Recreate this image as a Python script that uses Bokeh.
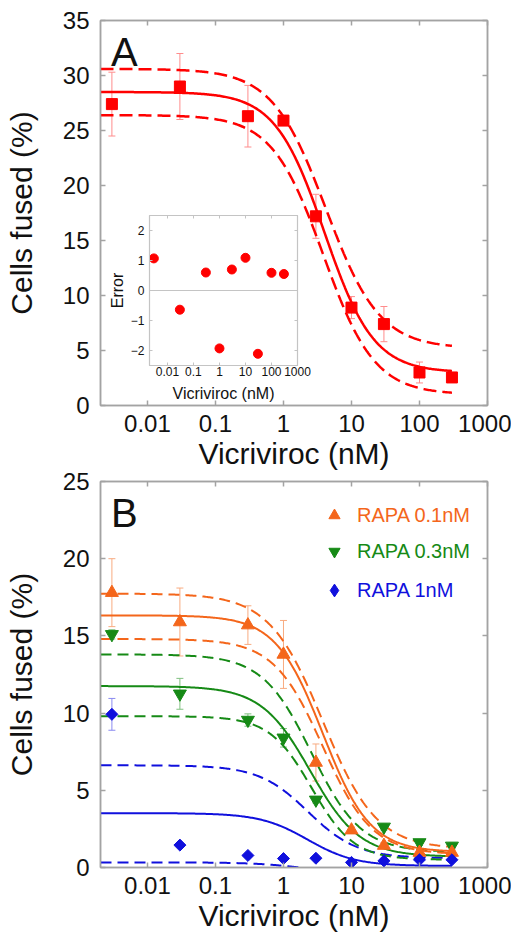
import numpy as np
from bokeh.plotting import figure
from bokeh.models import (ColumnDataSource, Whisker, TeeHead, FixedTicker, LogAxis,
                          LinearAxis, Span, Label, Legend, LegendItem, GridBox, Column,
                          CustomJSTickFormatter)
from bokeh.embed import file_html
from bokeh.resources import INLINE

FONT = "Liberation Sans"
GREY = "#a3a3a3"
RED = "#ff0000"
ORANGE = "#f4661b"
GREEN = "#168a16"
BLUE = "#1010dd"

# ---------------- data ----------------
conc_nM = [0.003, 0.03, 0.3, 1, 3, 10, 30, 100, 300]
x_ticks = [0.01, 0.1, 1, 10, 100, 1000]
x_tick_labels = ["0.01", "0.1", "1", "10", "100", "1000"]
y_ticks_a = [0, 5, 10, 15, 20, 25, 30, 35]
y_ticks_b = [0, 5, 10, 15, 20, 25]
y_ticks_inset = [-2, -1, 0, 1, 2]

fused_a = [27.4, 29.0, 26.3, 25.9, 17.2, 8.9, 7.4, 3.0, 2.55]
fused_a_err = [2.9, 3.0, 2.8, 0.3, 2.0, 1.0, 1.6, 0.95, 0.3]
resid_a = [1.07, -0.64, 0.60, -1.93, 0.70, 1.09, -2.11, 0.59, 0.55]

rapa_01 = [17.8, 15.9, 15.7, 13.8, 6.8, 2.42, 1.42, 0.97, 0.97]
rapa_01_err = [2.2, 2.2, 1.25, 2.2, 1.2, 0.2, 0.2, 0.15, 0.15]
rapa_03 = [15.1, 11.25, 9.55, 8.4, 4.38, None, 2.63, 1.62, 1.40]
rapa_03_err = [0.3, 1.0, 0.4, 0.6, 0.2, None, 0.2, 0.2, 0.2]
rapa_1 = [9.92, 1.45, 0.78, 0.58, 0.6, 0.33, 0.43, 0.5, 0.5]
rapa_1_err = [1.03, 0.1, 0.1, 0.1, 0.1, 0.1, 0.1, 0.1, 0.1]

# fitted dose-response curves and confidence bands: (top, bottom, IC50 nM, Hill slope)
fit_a = (28.5, 3.0, 4.0, 1.2)
fit_a_upper = (30.6, 5.2, 4.2, 1.1)
fit_a_lower = (26.4, 1.0, 3.85, 1.15)
fit_01 = (16.33, 1.0, 3.8, 1.25)
fit_01_upper = (17.74, 1.2, 3.8, 1.1)
fit_01_lower = (14.8, 0.85, 3.8, 1.2)
fit_03 = (11.75, 0.7, 2.5, 1.2)
fit_03_upper = (13.8, 1.0, 2.6, 1.2)
fit_03_lower = (9.8, 0.5, 2.6, 1.4)
fit_1 = (3.52, 0.1, 2.26, 1.24)
fit_1_upper = (6.62, 0.6, 2.3, 1.2)
fit_1_lower = (0.33, -0.4, 2.0, 1.2)

X_START = 0.00204
X_END = 1000
x_fit = np.logspace(np.log10(X_START), np.log10(max(conc_nM)), 300)


def hill(params):
    top, bottom, ic50, h = params
    return bottom + (top - bottom) / (1.0 + (x_fit / ic50) ** h)


def err_source(y, e):
    keep = [i for i, v in enumerate(y) if v is not None]
    xs = [conc_nM[i] for i in keep]
    ys = np.array([y[i] for i in keep], dtype=float)
    es = np.array([e[i] for i in keep], dtype=float)
    return ColumnDataSource(dict(x=xs, y=ys, upper=ys + es, lower=ys - es))


BLANK = CustomJSTickFormatter(code="return ''")


def style_axis(ax, size, standoff, label_size=None, label_standoff=None, hide=False,
               color=GREY, tick_in=5, width=1.5):
    ax.axis_line_color = color
    ax.axis_line_width = width
    ax.major_tick_line_color = color
    ax.major_tick_line_width = width
    ax.major_tick_in = tick_in
    ax.major_tick_out = 0
    ax.minor_tick_line_color = None
    ax.major_label_text_font = FONT
    ax.major_label_text_color = "#111111"
    if hide:
        ax.formatter = BLANK
        ax.major_label_text_font_size = "2px"
        ax.major_label_standoff = 0
    else:
        ax.major_label_text_font_size = size
        ax.major_label_standoff = standoff
    if label_size:
        ax.axis_label_text_font = FONT
        ax.axis_label_text_font_size = label_size
        ax.axis_label_text_font_style = "normal"
        ax.axis_label_text_color = "#111111"
        ax.axis_label_standoff = label_standoff


x_overrides = {float(v): s for v, s in zip(x_ticks, x_tick_labels)}


def make_panel(y_max, y_ticks, frame_h, top_border, bottom_border):
    p = figure(x_axis_type="log", x_range=(X_START, X_END), y_range=(0, y_max),
               frame_width=387, frame_height=frame_h,
               min_border_left=100, min_border_right=24,
               min_border_top=top_border, min_border_bottom=bottom_border,
               output_backend="svg", toolbar_location=None)
    p.border_fill_alpha = 0
    p.xgrid.visible = False
    p.ygrid.visible = False
    p.outline_line_color = GREY
    p.outline_line_width = 1.5
    p.xaxis.ticker = FixedTicker(ticks=x_ticks)
    p.xaxis.major_label_overrides = x_overrides
    p.yaxis.ticker = FixedTicker(ticks=y_ticks)
    p.xaxis.axis_label = "Vicriviroc (nM)"
    p.yaxis.axis_label = "Cells fused (%)"
    style_axis(p.xaxis[0], "24px", 9, "30px", 2)
    style_axis(p.yaxis[0], "24px", 11, "30px", 22)
    top = LogAxis(ticker=FixedTicker(ticks=x_ticks))
    style_axis(top, "2px", 0, hide=True)
    p.add_layout(top, "above")
    right = LinearAxis(ticker=FixedTicker(ticks=y_ticks))
    style_axis(right, "2px", 0, hide=True)
    p.add_layout(right, "right")
    return p


# ---------------- panel A ----------------
pA = make_panel(35, y_ticks_a, 385, 20, 74)
pA.line(x_fit, hill(fit_a), line_color=RED, line_width=2.5)
pA.line(x_fit, hill(fit_a_upper), line_color=RED, line_width=2.5, line_dash="13 6")
pA.line(x_fit, hill(fit_a_lower), line_color=RED, line_width=2.5, line_dash="13 6")
src_a = err_source(fused_a, fused_a_err)
pA.add_layout(Whisker(source=src_a, base="x", upper="upper", lower="lower",
                      line_color="#ff8c8c", line_width=1,
                      upper_head=TeeHead(size=7, line_color="#ff8c8c", line_width=1),
                      lower_head=TeeHead(size=7, line_color="#ff8c8c", line_width=1)))
pA.scatter("x", "y", source=src_a, marker="square", size=11, fill_color=RED, line_color=RED)
pA.add_layout(Label(x=0.0029, y=32.1, text="A", text_font=FONT, text_font_size="40px",
                    text_color="#111111", text_baseline="alphabetic"))

# ---------------- inset (residuals) ----------------
IGREY = "#c4c4c4"
inset = figure(x_axis_type="log", x_range=(X_START, X_END), y_range=(-2.5, 2.5),
               frame_width=148, frame_height=150,
               min_border_left=40, min_border_right=14, min_border_top=10, min_border_bottom=44,
               output_backend="svg", toolbar_location=None)
inset.background_fill_alpha = 0
inset.border_fill_alpha = 0
inset.xgrid.visible = False
inset.ygrid.visible = False
inset.outline_line_color = IGREY
inset.outline_line_width = 1.2
inset.xaxis.ticker = FixedTicker(ticks=x_ticks)
inset.xaxis.major_label_overrides = x_overrides
inset.yaxis.ticker = FixedTicker(ticks=y_ticks_inset)
inset.xaxis.axis_label = "Vicriviroc (nM)"
inset.yaxis.axis_label = "Error"
style_axis(inset.xaxis[0], "12px", 1, "16px", 6, color=IGREY, tick_in=3, width=1)
style_axis(inset.yaxis[0], "12px", 5, "16px", 2, color=IGREY, tick_in=3, width=1)
itop = LogAxis(ticker=FixedTicker(ticks=x_ticks))
style_axis(itop, "2px", 0, hide=True, color=IGREY, tick_in=3, width=1)
inset.add_layout(itop, "above")
iright = LinearAxis(ticker=FixedTicker(ticks=y_ticks_inset))
style_axis(iright, "2px", 0, hide=True, color=IGREY, tick_in=3, width=1)
inset.add_layout(iright, "right")
inset.add_layout(Span(location=0, dimension="width", line_color=IGREY, line_width=1))
inset.scatter(conc_nM, resid_a, marker="circle", size=9, fill_color=RED, line_color=RED)
inset_box = Column(children=[inset], margin=(205, 0, 0, 105))

# ---------------- panel B ----------------
pB = make_panel(25, y_ticks_b, 386, 26, 65)
for params_set, col in (((fit_1, fit_1_upper, fit_1_lower), BLUE),
                        ((fit_03, fit_03_upper, fit_03_lower), GREEN),
                        ((fit_01, fit_01_upper, fit_01_lower), ORANGE)):
    fit, up, lo = params_set
    pB.line(x_fit, hill(fit), line_color=col, line_width=2)
    pB.line(x_fit, hill(up), line_color=col, line_width=2, line_dash="11 6")
    pB.line(x_fit, hill(lo), line_color=col, line_width=2, line_dash="11 6")


def add_series(y, e, color, err_color, marker, size, angle=0.0):
    src = err_source(y, e)
    pB.add_layout(Whisker(source=src, base="x", upper="upper", lower="lower",
                          line_color=err_color, line_width=1,
                          upper_head=TeeHead(size=7, line_color=err_color, line_width=1),
                          lower_head=TeeHead(size=7, line_color=err_color, line_width=1)))
    return pB.scatter("x", "y", source=src, marker=marker, size=size, angle=angle,
                      fill_color=color, line_color=color)


r_03 = add_series(rapa_03, rapa_03_err, GREEN, "#80c080", "inverted_triangle", 13)
r_01 = add_series(rapa_01, rapa_01_err, ORANGE, "#f8ab80", "triangle", 13)
r_1 = add_series(rapa_1, rapa_1_err, BLUE, "#8a8af0", "square", 8.5, angle=np.pi / 4)
# legend key for the diamonds (legend icons are drawn unrotated); it has no visible point
r_1_key = pB.scatter(x=[np.nan], y=[np.nan], marker="diamond", fill_color=BLUE,
                     line_color=BLUE)

for label, rend, col, loc, gsz in (("RAPA 0.1nM", r_01, ORANGE, (220, 337.7), 28),
                                    ("RAPA 0.3nM", r_03, GREEN, (220, 302), 28),
                                    ("RAPA 1nM", r_1_key, BLUE, (218, 260.7), 32)):
    leg = Legend(items=[LegendItem(label=label, renderers=[rend])], location=loc,
                 padding=0, margin=0, spacing=0, glyph_width=gsz, glyph_height=gsz,
                 label_standoff=9 - (gsz - 28) // 2, label_text_font=FONT,
                 label_text_font_size="20px", label_text_color=col,
                 border_line_color=None, background_fill_alpha=0)
    pB.add_layout(leg)

pB.add_layout(Label(x=0.0029, y=22.94, text="B", text_font=FONT, text_font_size="40px",
                    text_color="#111111", text_baseline="alphabetic"))
pB_box = Column(children=[pB], margin=(455, 0, 0, 0))

layout = GridBox(children=[(pA, 0, 0), (inset_box, 0, 0), (pB_box, 0, 0)], spacing=0)
open("out.html", "w").write(file_html(layout, INLINE))
